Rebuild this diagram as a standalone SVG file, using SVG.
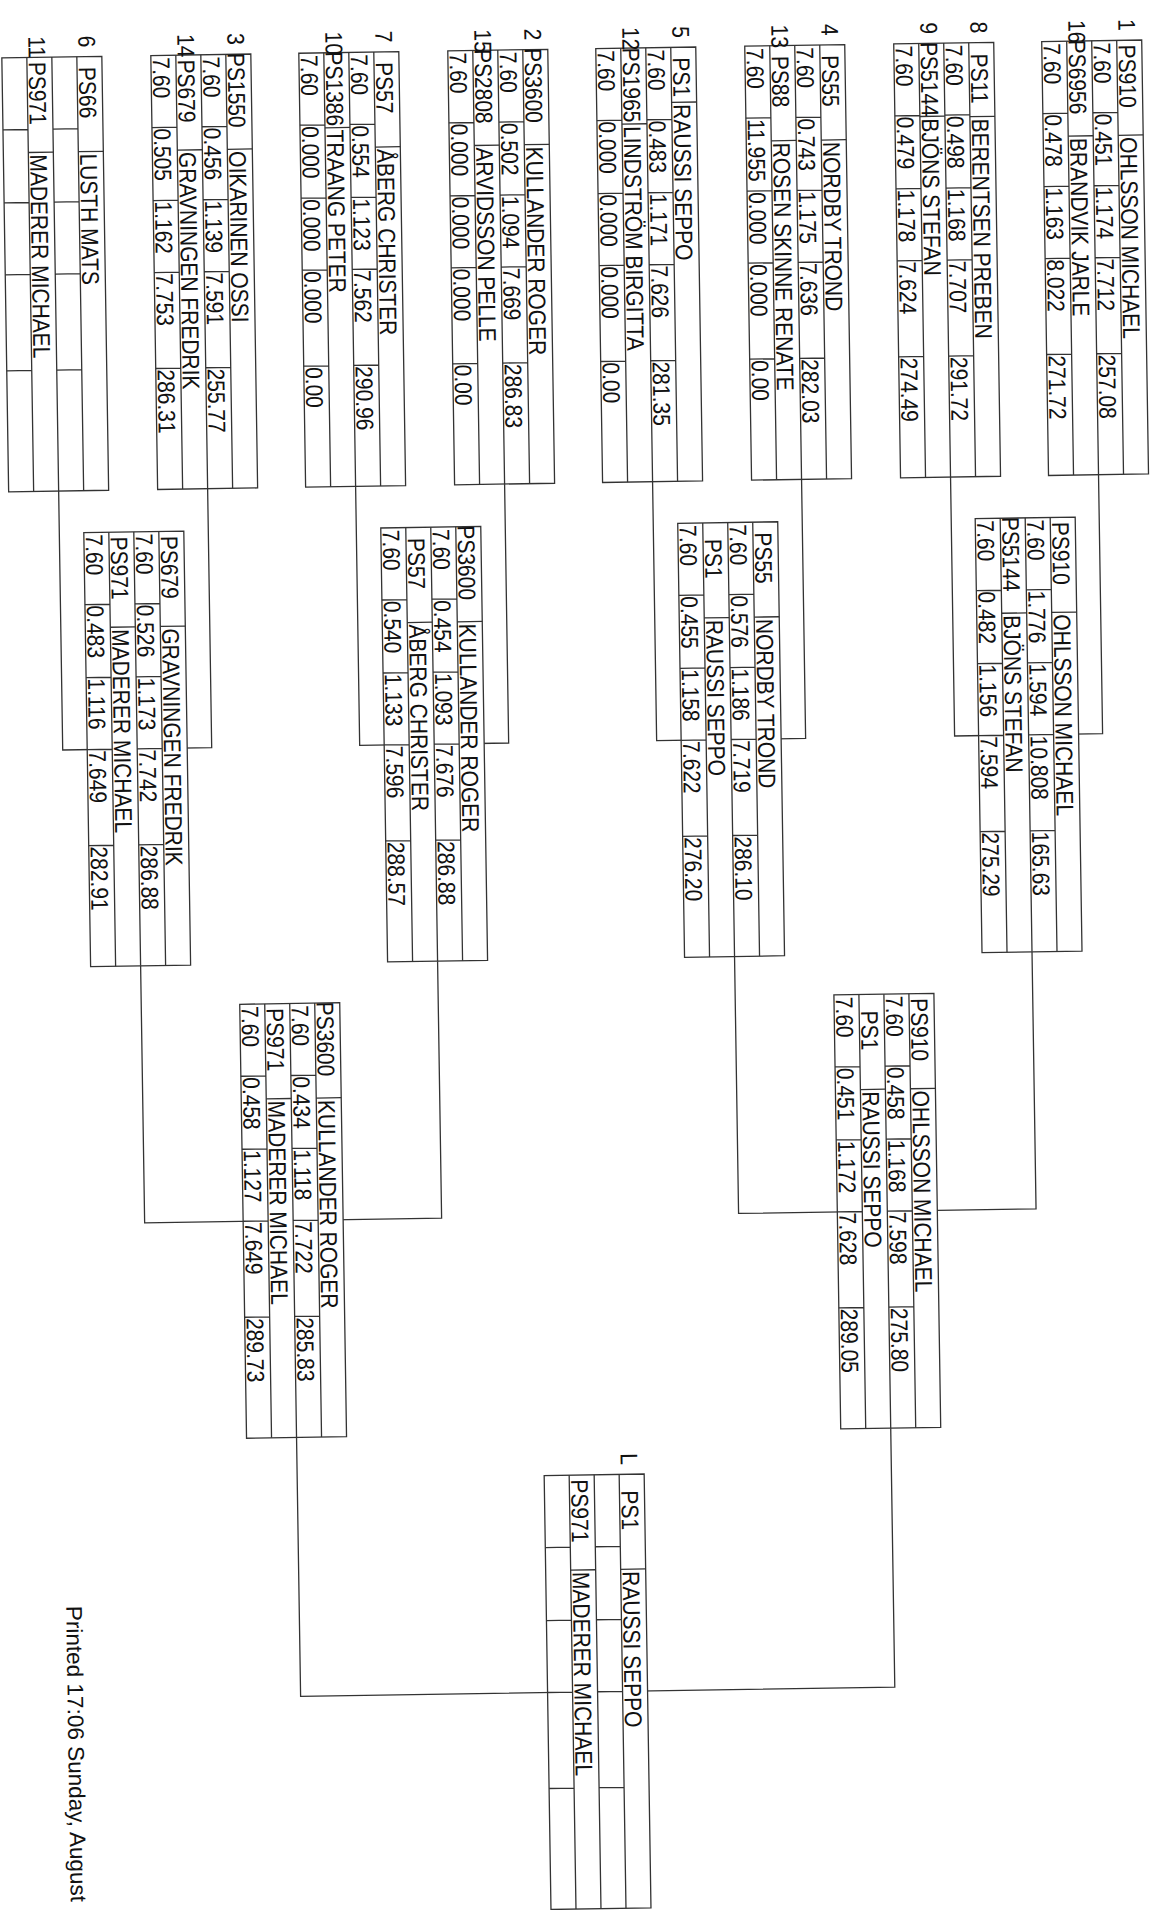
<svg xmlns="http://www.w3.org/2000/svg" xmlns:xlink="http://www.w3.org/1999/xlink" width="1151" height="1910" viewBox="0 0 1151 1910">
<style>
.ln{fill:none;stroke:#333;stroke-width:1.3;vector-effect:non-scaling-stroke}
.dv{fill:none;stroke:#333;stroke-width:1.3;vector-effect:non-scaling-stroke}
text{font-family:"Liberation Sans",Arial,Helvetica,sans-serif;font-size:21px;fill:#111}
.c{text-anchor:middle}
.pr{font-size:22.5px}
</style>
<defs>
<g id="box">
<rect x="0" y="0" width="434" height="86.96" fill="#fff" stroke="#333" stroke-width="1.3" vector-effect="non-scaling-stroke"/>
<path fill="none" stroke="#333" stroke-width="1.3" vector-effect="non-scaling-stroke" d="M0 21.74H434M0 43.48H434M0 65.22H434M72 21.74V43.48M145 21.74V43.48M217 21.74V43.48M313 21.74V43.48M72 65.22V86.96M145 65.22V86.96M217 65.22V86.96M313 65.22V86.96"/>
</g>
</defs>
<rect x="0" y="0" width="1151" height="1910" fill="#fff"/>
<g transform="rotate(-0.9 575 955)">
<g id="connectors">
<path class="ln" d="M66 483V742H215V483M363 483V742H512V483M660 483V742H809V483M958 483V742H1106V483"/>
<path class="ln" d="M140.5 959V1216H437.5V959M734.5 959V1216H1032V959"/>
<path class="ln" d="M289 1433V1692H883.25V1433"/>
</g>

<g id="r1-1-16" transform="translate(1156 49) rotate(90) scale(1 1.15)">
<use href="#box"/>
<path class="dv" d="M95 0V21.74M95 43.48V65.22"/>
<text x="-21" y="20.2">1</text><text x="-21" y="63.7">16</text>
<text class="c" x="36" y="20.2">PS910</text><text x="97" y="20.2">OHLSSON MICHAEL</text>
<text x="2" y="41.9">7.60</text><text x="73" y="41.9">0.451</text><text x="146" y="41.9">1.174</text><text x="218" y="41.9">7.712</text><text x="314" y="41.9">257.08</text>
<text class="c" x="36" y="63.7">PS6956</text><text x="97" y="63.7">BRANDVIK JARLE</text>
<text x="2" y="85.4">7.60</text><text x="73" y="85.4">0.478</text><text x="146" y="85.4">1.163</text><text x="218" y="85.4">8.022</text><text x="314" y="85.4">271.72</text>
</g>

<g id="r1-8-9" transform="translate(1008 49) rotate(90) scale(1 1.15)">
<use href="#box"/>
<path class="dv" d="M74 0V21.74M73 43.48V65.22"/>
<text x="-21" y="20.2">8</text><text x="-21" y="63.7">9</text>
<text class="c" x="36" y="20.2">PS11</text><text x="76" y="20.2">BERENTSEN PREBEN</text>
<text x="2" y="41.9">7.60</text><text x="73" y="41.9">0.498</text><text x="146" y="41.9">1.168</text><text x="218" y="41.9">7.707</text><text x="314" y="41.9">291.72</text>
<text class="c" x="36" y="63.7">PS5144</text><text x="75" y="63.7">BJÖNS STEFAN</text>
<text x="2" y="85.4">7.60</text><text x="73" y="85.4">0.479</text><text x="146" y="85.4">1.178</text><text x="218" y="85.4">7.624</text><text x="314" y="85.4">274.49</text>
</g>

<g id="r1-4-13" transform="translate(859 49) rotate(90) scale(1 1.15)">
<use href="#box"/>
<path class="dv" d="M95 0V21.74M95 43.48V65.22"/>
<text x="-21" y="20.2">4</text><text x="-21" y="63.7">13</text>
<text class="c" x="36" y="20.2">PS55</text><text x="97" y="20.2">NORDBY TROND</text>
<text x="2" y="41.9">7.60</text><text x="73" y="41.9">0.743</text><text x="146" y="41.9">1.175</text><text x="218" y="41.9">7.636</text><text x="314" y="41.9">282.03</text>
<text class="c" x="36" y="63.7">PS88</text><text x="97" y="63.7">ROSEN SKINNE RENATE</text>
<text x="2" y="85.4">7.60</text><text x="73" y="85.4">11.955</text><text x="146" y="85.4">0.000</text><text x="218" y="85.4">0.000</text><text x="314" y="85.4">0.00</text>
</g>

<g id="r1-5-12" transform="translate(710 49) rotate(90) scale(1 1.15)">
<use href="#box"/>
<path class="dv" d="M55 0V21.74M76 43.48V65.22"/>
<text x="-21" y="20.2">5</text><text x="-21" y="63.7">12</text>
<text class="c" x="30" y="20.2">PS1</text><text x="57" y="20.2">RAUSSI SEPPO</text>
<text x="2" y="41.9">7.60</text><text x="73" y="41.9">0.483</text><text x="146" y="41.9">1.171</text><text x="218" y="41.9">7.626</text><text x="314" y="41.9">281.35</text>
<text class="c" x="37" y="63.7">PS1965</text><text x="78" y="63.7">LINDSTRÖM BIRGITTA</text>
<text x="2" y="85.4">7.60</text><text x="73" y="85.4">0.000</text><text x="146" y="85.4">0.000</text><text x="218" y="85.4">0.000</text><text x="314" y="85.4">0.00</text>
</g>

<g id="r1-2-15" transform="translate(562 49) rotate(90) scale(1 1.15)">
<use href="#box"/>
<path class="dv" d="M95 0V21.74M95 43.48V65.22"/>
<text x="-21" y="20.2">2</text><text x="-21" y="63.7">15</text>
<text class="c" x="36" y="20.2">PS3600</text><text x="97" y="20.2">KULLANDER ROGER</text>
<text x="2" y="41.9">7.60</text><text x="73" y="41.9">0.502</text><text x="146" y="41.9">1.094</text><text x="218" y="41.9">7.669</text><text x="314" y="41.9">286.83</text>
<text class="c" x="36" y="63.7">PS2808</text><text x="97" y="63.7">ARVIDSSON PELLE</text>
<text x="2" y="85.4">7.60</text><text x="73" y="85.4">0.000</text><text x="146" y="85.4">0.000</text><text x="218" y="85.4">0.000</text><text x="314" y="85.4">0.00</text>
</g>

<g id="r1-7-10" transform="translate(413 49) rotate(90) scale(1 1.15)">
<use href="#box"/>
<path class="dv" d="M95 0V21.74M75 43.48V65.22"/>
<text x="-21" y="20.2">7</text><text x="-21" y="63.7">10</text>
<text class="c" x="36" y="20.2">PS57</text><text x="97" y="20.2">ÅBERG CHRISTER</text>
<text x="2" y="41.9">7.60</text><text x="73" y="41.9">0.554</text><text x="146" y="41.9">1.123</text><text x="218" y="41.9">7.562</text><text x="314" y="41.9">290.96</text>
<text class="c" x="36" y="63.7">PS1386</text><text x="77" y="63.7">TRAANG PETER</text>
<text x="2" y="85.4">7.60</text><text x="73" y="85.4">0.000</text><text x="146" y="85.4">0.000</text><text x="218" y="85.4">0.000</text><text x="314" y="85.4">0.00</text>
</g>

<g id="r1-3-14" transform="translate(265 49) rotate(90) scale(1 1.15)">
<use href="#box"/>
<path class="dv" d="M95 0V21.74M95 43.48V65.22"/>
<text x="-21" y="20.2">3</text><text x="-21" y="63.7">14</text>
<text class="c" x="36" y="20.2">PS1550</text><text x="97" y="20.2">OIKARINEN OSSI</text>
<text x="2" y="41.9">7.60</text><text x="73" y="41.9">0.456</text><text x="146" y="41.9">1.139</text><text x="218" y="41.9">7.591</text><text x="314" y="41.9">255.77</text>
<text class="c" x="36" y="63.7">PS679</text><text x="97" y="63.7">GRAVNINGEN FREDRIK</text>
<text x="2" y="85.4">7.60</text><text x="73" y="85.4">0.505</text><text x="146" y="85.4">1.162</text><text x="218" y="85.4">7.753</text><text x="314" y="85.4">286.31</text>
</g>

<g id="r1-6-11" transform="translate(116 49) rotate(90) scale(1 1.15)">
<use href="#box"/>
<path class="dv" d="M95 0V21.74M95 43.48V65.22"/>
<text x="-21" y="20.2">6</text><text x="-21" y="63.7">11</text>
<text class="c" x="36" y="20.2">PS66</text><text x="97" y="20.2">LUSTH MATS</text>
<text class="c" x="36" y="63.7">PS971</text><text x="97" y="63.7">MADERER MICHAEL</text>
</g>

<g id="qf-1" transform="translate(1082 525) rotate(90) scale(1 1.15)">
<use href="#box"/>
<path class="dv" d="M95 0V21.74M95 43.48V65.22"/>
<text class="c" x="36" y="20.2">PS910</text><text x="97" y="20.2">OHLSSON MICHAEL</text>
<text x="2" y="41.9">7.60</text><text x="73" y="41.9">1.776</text><text x="146" y="41.9">1.594</text><text x="218" y="41.9">10.808</text><text x="314" y="41.9">165.63</text>
<text class="c" x="36" y="63.7">PS5144</text><text x="97" y="63.7">BJÖNS STEFAN</text>
<text x="2" y="85.4">7.60</text><text x="73" y="85.4">0.482</text><text x="146" y="85.4">1.156</text><text x="218" y="85.4">7.594</text><text x="314" y="85.4">275.29</text>
</g>

<g id="qf-2" transform="translate(784.5 525) rotate(90) scale(1 1.15)">
<use href="#box"/>
<path class="dv" d="M95 0V21.74M95 43.48V65.22"/>
<text class="c" x="36" y="20.2">PS55</text><text x="97" y="20.2">NORDBY TROND</text>
<text x="2" y="41.9">7.60</text><text x="73" y="41.9">0.576</text><text x="146" y="41.9">1.186</text><text x="218" y="41.9">7.719</text><text x="314" y="41.9">286.10</text>
<text class="c" x="36" y="63.7">PS1</text><text x="97" y="63.7">RAUSSI SEPPO</text>
<text x="2" y="85.4">7.60</text><text x="73" y="85.4">0.455</text><text x="146" y="85.4">1.158</text><text x="218" y="85.4">7.622</text><text x="314" y="85.4">276.20</text>
</g>

<g id="qf-3" transform="translate(487.5 525) rotate(90) scale(1 1.15)">
<use href="#box"/>
<path class="dv" d="M95 0V21.74M95 43.48V65.22"/>
<text class="c" x="36" y="20.2">PS3600</text><text x="97" y="20.2">KULLANDER ROGER</text>
<text x="2" y="41.9">7.60</text><text x="73" y="41.9">0.454</text><text x="146" y="41.9">1.093</text><text x="218" y="41.9">7.676</text><text x="314" y="41.9">286.88</text>
<text class="c" x="36" y="63.7">PS57</text><text x="97" y="63.7">ÅBERG CHRISTER</text>
<text x="2" y="85.4">7.60</text><text x="73" y="85.4">0.540</text><text x="146" y="85.4">1.133</text><text x="218" y="85.4">7.596</text><text x="314" y="85.4">288.57</text>
</g>

<g id="qf-4" transform="translate(190.5 525) rotate(90) scale(1 1.15)">
<use href="#box"/>
<path class="dv" d="M95 0V21.74M95 43.48V65.22"/>
<text class="c" x="36" y="20.2">PS679</text><text x="97" y="20.2">GRAVNINGEN FREDRIK</text>
<text x="2" y="41.9">7.60</text><text x="73" y="41.9">0.526</text><text x="146" y="41.9">1.173</text><text x="218" y="41.9">7.742</text><text x="314" y="41.9">286.88</text>
<text class="c" x="36" y="63.7">PS971</text><text x="97" y="63.7">MADERER MICHAEL</text>
<text x="2" y="85.4">7.60</text><text x="73" y="85.4">0.483</text><text x="146" y="85.4">1.116</text><text x="218" y="85.4">7.649</text><text x="314" y="85.4">282.91</text>
</g>

<g id="sf-1" transform="translate(933.25 999) rotate(90) scale(1 1.15)">
<use href="#box"/>
<path class="dv" d="M95 0V21.74M95 43.48V65.22"/>
<text class="c" x="36" y="20.2">PS910</text><text x="97" y="20.2">OHLSSON MICHAEL</text>
<text x="2" y="41.9">7.60</text><text x="73" y="41.9">0.458</text><text x="146" y="41.9">1.168</text><text x="218" y="41.9">7.598</text><text x="314" y="41.9">275.80</text>
<text class="c" x="36" y="63.7">PS1</text><text x="97" y="63.7">RAUSSI SEPPO</text>
<text x="2" y="85.4">7.60</text><text x="73" y="85.4">0.451</text><text x="146" y="85.4">1.172</text><text x="218" y="85.4">7.628</text><text x="314" y="85.4">289.05</text>
</g>

<g id="sf-2" transform="translate(339 999) rotate(90) scale(1 1.15)">
<use href="#box"/>
<path class="dv" d="M95 0V21.74M95 43.48V65.22"/>
<text class="c" x="36" y="20.2">PS3600</text><text x="97" y="20.2">KULLANDER ROGER</text>
<text x="2" y="41.9">7.60</text><text x="73" y="41.9">0.434</text><text x="146" y="41.9">1.118</text><text x="218" y="41.9">7.722</text><text x="314" y="41.9">285.83</text>
<text class="c" x="36" y="63.7">PS971</text><text x="97" y="63.7">MADERER MICHAEL</text>
<text x="2" y="85.4">7.60</text><text x="73" y="85.4">0.458</text><text x="146" y="85.4">1.127</text><text x="218" y="85.4">7.649</text><text x="314" y="85.4">289.73</text>
</g>

<g id="final" transform="translate(636 1475) rotate(90) scale(1 1.15)">
<use href="#box"/>
<path class="dv" d="M95 0V21.74M95 43.48V65.22"/>
<text x="-21" y="20.2">L</text>
<text class="c" x="36" y="20.2">PS1</text><text x="97" y="20.2">RAUSSI SEPPO</text>
<text class="c" x="36" y="63.7">PS971</text><text x="97" y="63.7">MADERER MICHAEL</text>
</g>

<g id="footer">
<text class="pr" transform="translate(56 1598) rotate(90)">Printed 17:06 Sunday, August</text>
</g>
</g>
</svg>
